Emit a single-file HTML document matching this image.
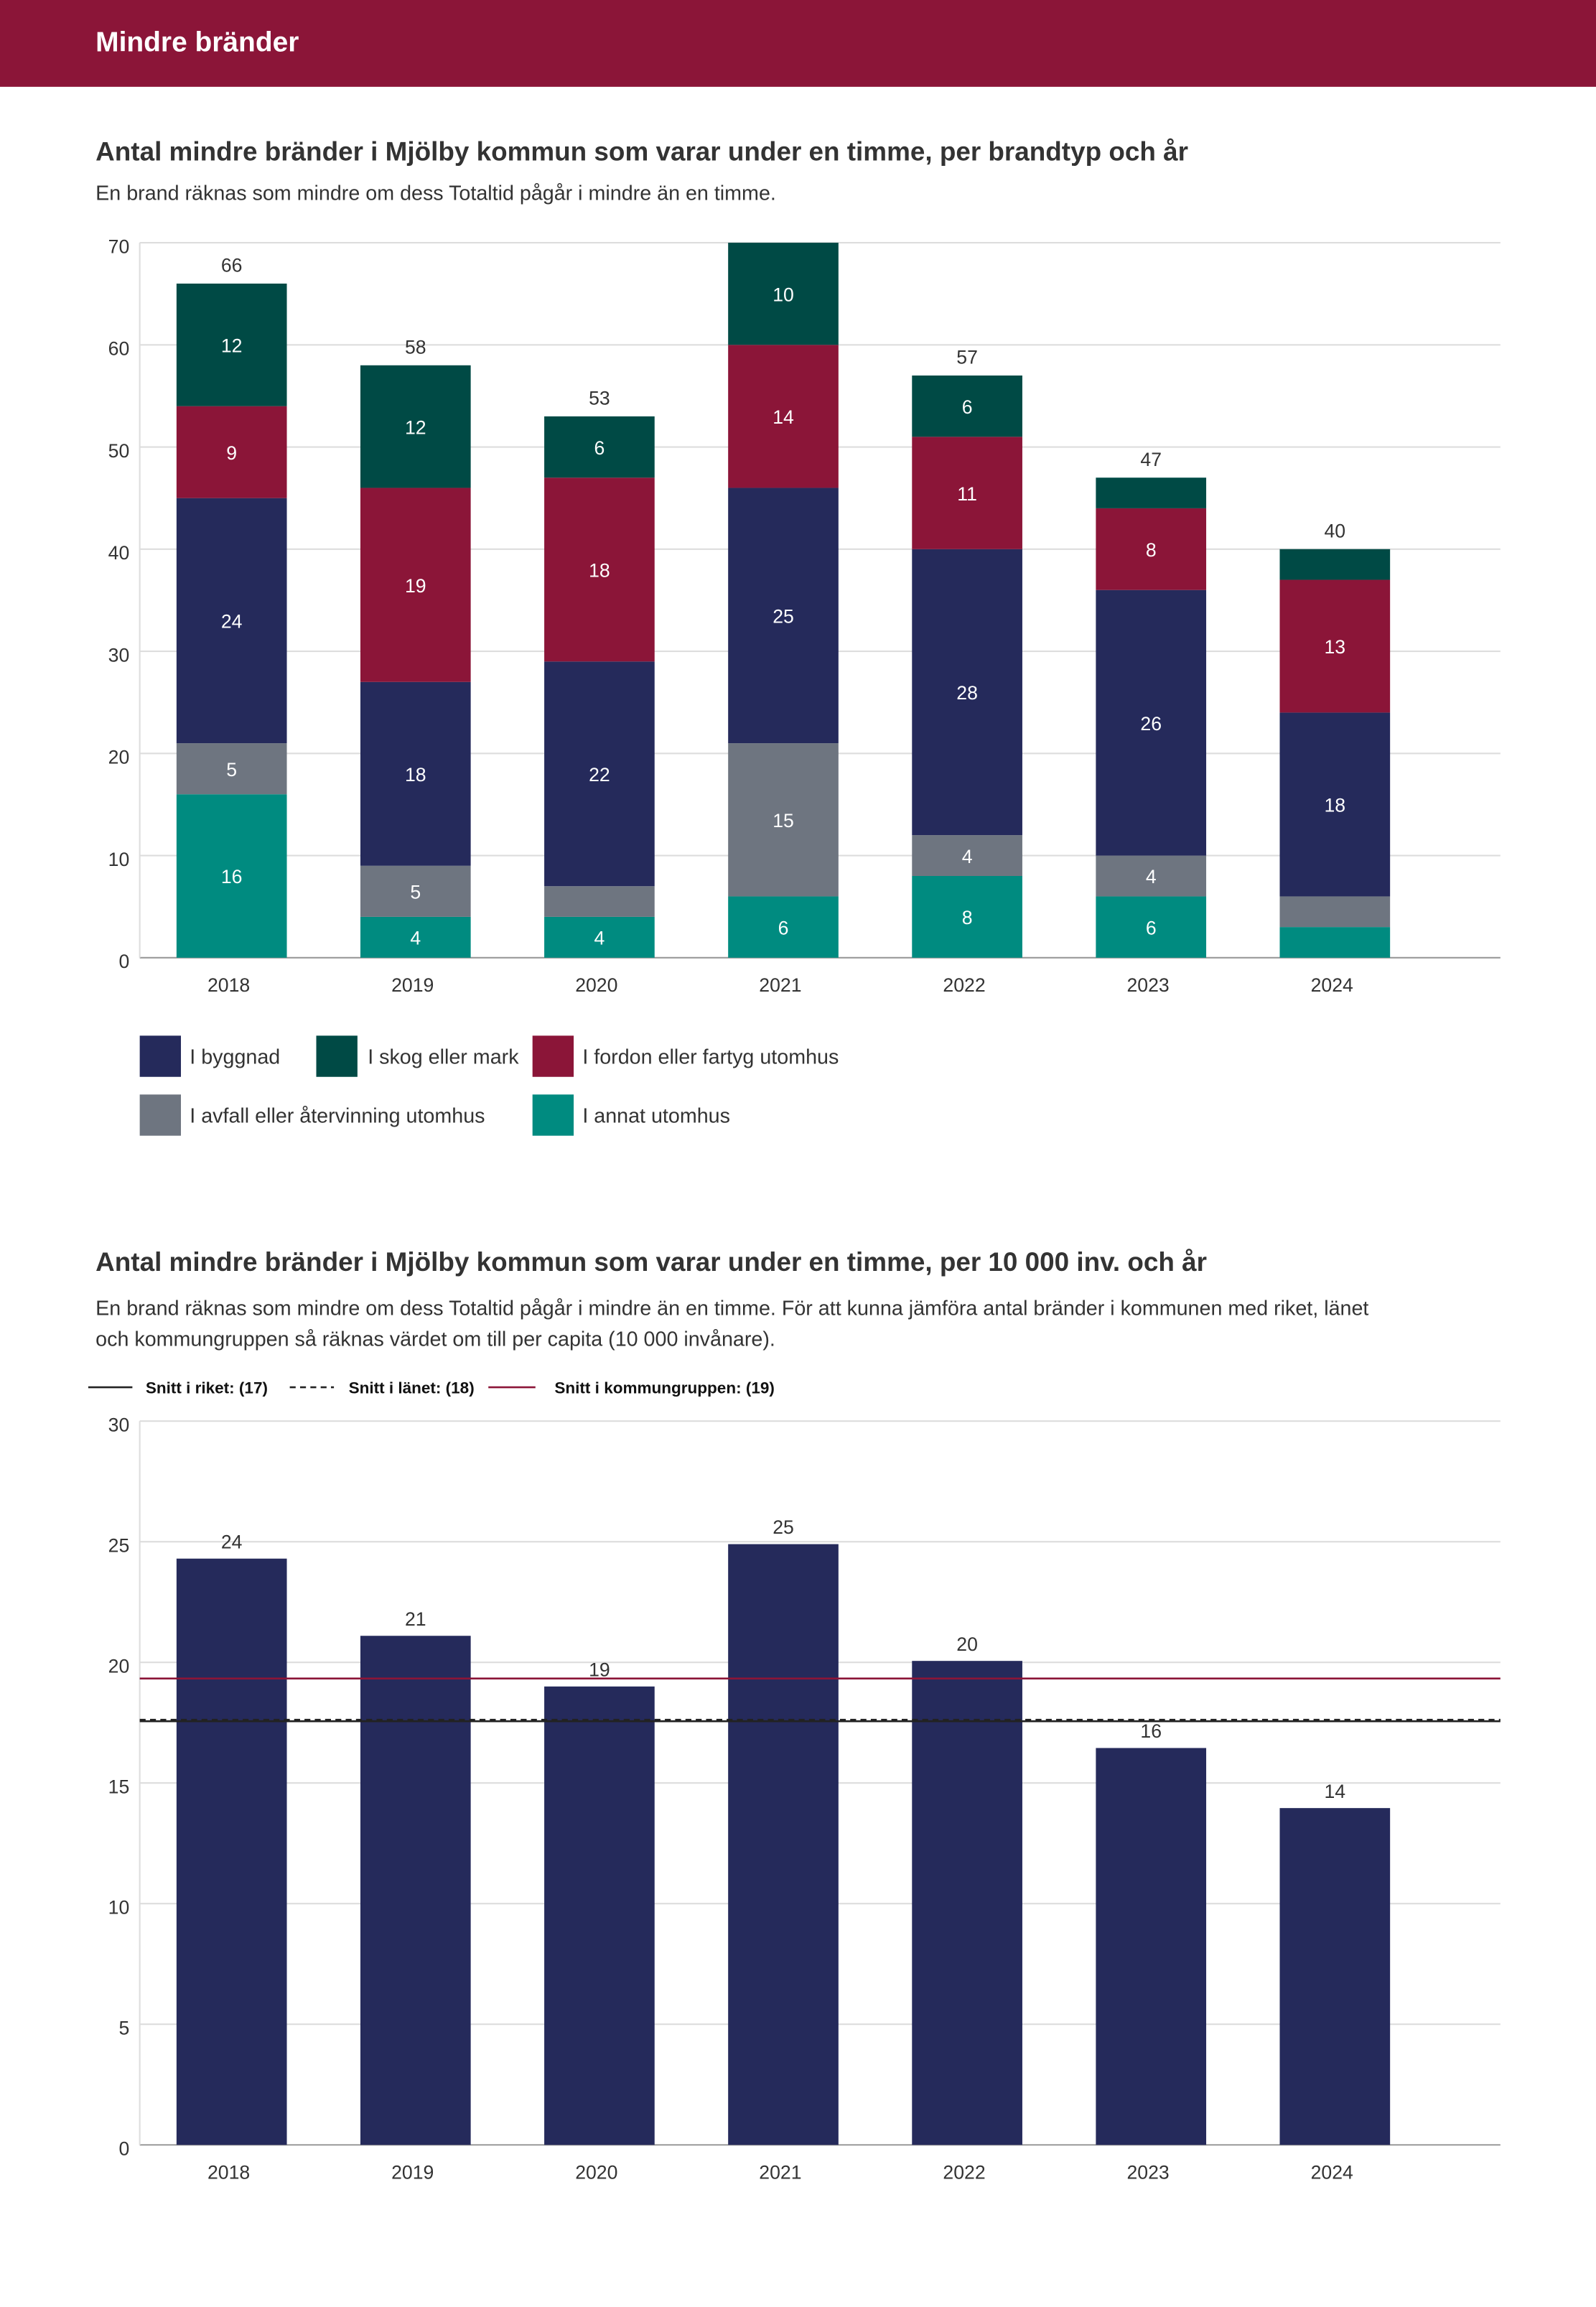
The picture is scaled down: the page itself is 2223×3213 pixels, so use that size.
<!DOCTYPE html>
<html><head><meta charset="utf-8"><style>
html,body{margin:0;padding:0;background:#fff}
svg{display:block;font-family:"Liberation Sans",sans-serif}
</style></head><body>
<svg id="s" width="2223" height="3213" viewBox="0 0 1085 1568.2" xmlns="http://www.w3.org/2000/svg">
<rect x="0" y="0" width="1085" height="59" fill="#8b1538"/>
<text x="65" y="35" fill="#fff" font-size="19" font-weight="bold">Mindre bränder</text>
<text x="65" y="109" fill="#333" font-size="18" font-weight="bold">Antal mindre bränder i Mjölby kommun som varar under en timme, per brandtyp och år</text>
<text x="65" y="136" fill="#333" font-size="14">En brand räknas som mindre om dess Totaltid pågår i mindre än en timme.</text>
<g id="c1"></g>
<g>
<rect x="95" y="704" width="28" height="28" fill="#252a5b"/><text x="129" y="723" font-size="14" fill="#333">I byggnad</text>
<rect x="215" y="704" width="28" height="28" fill="#004a45"/><text x="250" y="723" font-size="14" fill="#333">I skog eller mark</text>
<rect x="362" y="704" width="28" height="28" fill="#8b1538"/><text x="396" y="723" font-size="14" fill="#333">I fordon eller fartyg utomhus</text>
<rect x="95" y="744" width="28" height="28" fill="#6e7580"/><text x="129" y="763" font-size="14" fill="#333">I avfall eller återvinning utomhus</text>
<rect x="362" y="744" width="28" height="28" fill="#008b80"/><text x="396" y="763" font-size="14" fill="#333">I annat utomhus</text>
</g>
<text x="65" y="864" fill="#333" font-size="18" font-weight="bold">Antal mindre bränder i Mjölby kommun som varar under en timme, per 10 000 inv. och år</text>
<text x="65" y="894" fill="#333" font-size="14">En brand räknas som mindre om dess Totaltid pågår i mindre än en timme. För att kunna jämföra antal bränder i kommunen med riket, länet</text>
<text x="65" y="915" fill="#333" font-size="14">och kommungruppen så räknas värdet om till per capita (10 000 invånare).</text>
<g font-size="11" font-weight="bold" fill="#111">
<line x1="60" y1="943" x2="90" y2="943" stroke="#222" stroke-width="1.3"/><text x="99" y="947">Snitt i riket: (17)</text>
<line x1="197" y1="943" x2="227" y2="943" stroke="#222" stroke-width="1.3" stroke-dasharray="4,3"/><text x="237" y="947">Snitt i länet: (18)</text>
<line x1="332" y1="943" x2="364" y2="943" stroke="#8b1538" stroke-width="1.3"/><text x="377" y="947">Snitt i kommungruppen: (19)</text>
</g>
<g id="c2"></g>
</svg>
<script>
const years=["2018","2019","2020","2021","2022","2023","2024"];
const annat=[16,4,4,6,8,6,3];
const avfall=[5,5,3,15,4,4,3];
const byggnad=[24,18,22,25,28,26,18];
const fordon=[9,19,18,14,11,8,13];
const skog=[12,12,6,10,6,3,3];
const ticks1=[0,10,20,30,40,50,60,70];
const perCapita=[24.3,21.1,19.0,24.9,20.06,16.45,13.96];
const perCapitaLabels=["24","21","19","25","20","16","14"];
const ticks2=[0,5,10,15,20,25,30];
const riket=17.56, lanet=17.62, kommungrupp=19.33;

const NS="http://www.w3.org/2000/svg";
function mk(p,tag,at,txt){const e=document.createElementNS(NS,tag);for(const k in at)e.setAttribute(k,at[k]);if(txt!=null)e.textContent=txt;p.appendChild(e);return e;}
const x0=95,x1=1020,band=125,bw=75;
const xc=i=>x0+band/2+band*i;

// chart 1
const c1=document.getElementById('c1');
const y1=v=>651-v*(651-165)/70;
ticks1.forEach(t=>{
  const l=mk(c1,'line',{x1:x0,x2:x1,y1:y1(t),y2:y1(t),stroke:t==0?'#999':'#ddd','stroke-width':1});
  
  
  const tx=mk(c1,'text',{x:88,y:y1(t)+7,'text-anchor':'end','font-size':13,fill:'#333'},t);
  
  
});
const ax=mk(c1,'line',{x1:x0,x2:x0,y1:y1(70),y2:y1(0),stroke:'#ddd'});


const series=[[annat,'#008b80','annat'],[avfall,'#6e7580','avfall'],[byggnad,'#252a5b','byggnad'],[fordon,'#8b1538','fordon'],[skog,'#004a45','skog']];
years.forEach((yr,i)=>{
  let cum=0;
  series.forEach(([arr,col,nm])=>{
    const v=arr[i];
    const r=mk(c1,'rect',{x:xc(i)-bw/2,y:y1(cum+v),width:bw,height:y1(cum)-y1(cum+v),fill:col});
    
    
    if(v>=4){
      const t=mk(c1,'text',{x:xc(i),y:(y1(cum)+y1(cum+v))/2+5,'text-anchor':'middle','font-size':13,fill:'#fff'},v);
      
      
    }
    cum+=v;
  });
  if(cum<70){
    const t=mk(c1,'text',{x:xc(i),y:y1(cum)-8,'text-anchor':'middle','font-size':13,fill:'#333'},cum);
    
    
  }
  const xl=mk(c1,'text',{x:xc(i)-2,y:674,'text-anchor':'middle','font-size':13,fill:'#333'},yr);
  
  
});

// chart 2
const c2=document.getElementById('c2');
const y2=v=>1458-v*16.4;
ticks2.forEach(t=>{
  const l=mk(c2,'line',{x1:x0,x2:x1,y1:y2(t),y2:y2(t),stroke:t==0?'#999':'#ddd','stroke-width':1});
  
  
  const tx=mk(c2,'text',{x:88,y:y2(t)+7,'text-anchor':'end','font-size':13,fill:'#333'},t);
  
  
});
const ax2=mk(c2,'line',{x1:x0,x2:x0,y1:y2(30),y2:y2(0),stroke:'#ddd'});


years.forEach((yr,i)=>{
  const v=perCapita[i];
  const r=mk(c2,'rect',{x:xc(i)-bw/2,y:y2(v),width:bw,height:y2(0)-y2(v),fill:'#252a5b'});
  
  
  const t=mk(c2,'text',{x:xc(i),y:y2(v)-7,'text-anchor':'middle','font-size':13,fill:'#333'},perCapitaLabels[i]);
  
  
  const xl=mk(c2,'text',{x:xc(i)-2,y:1481,'text-anchor':'middle','font-size':13,fill:'#333'},yr);
  
  
});
const lr=mk(c2,'line',{x1:x0,x2:x1,y1:y2(riket),y2:y2(riket),stroke:'#222','stroke-width':1.3});


const ll=mk(c2,'line',{x1:x0,x2:x1,y1:y2(lanet),y2:y2(lanet),stroke:'#222','stroke-width':1.3,'stroke-dasharray':'4,3'});


const lk=mk(c2,'line',{x1:x0,x2:x1,y1:y2(kommungrupp),y2:y2(kommungrupp),stroke:'#8b1538','stroke-width':1.3});


</script>
</body></html>
